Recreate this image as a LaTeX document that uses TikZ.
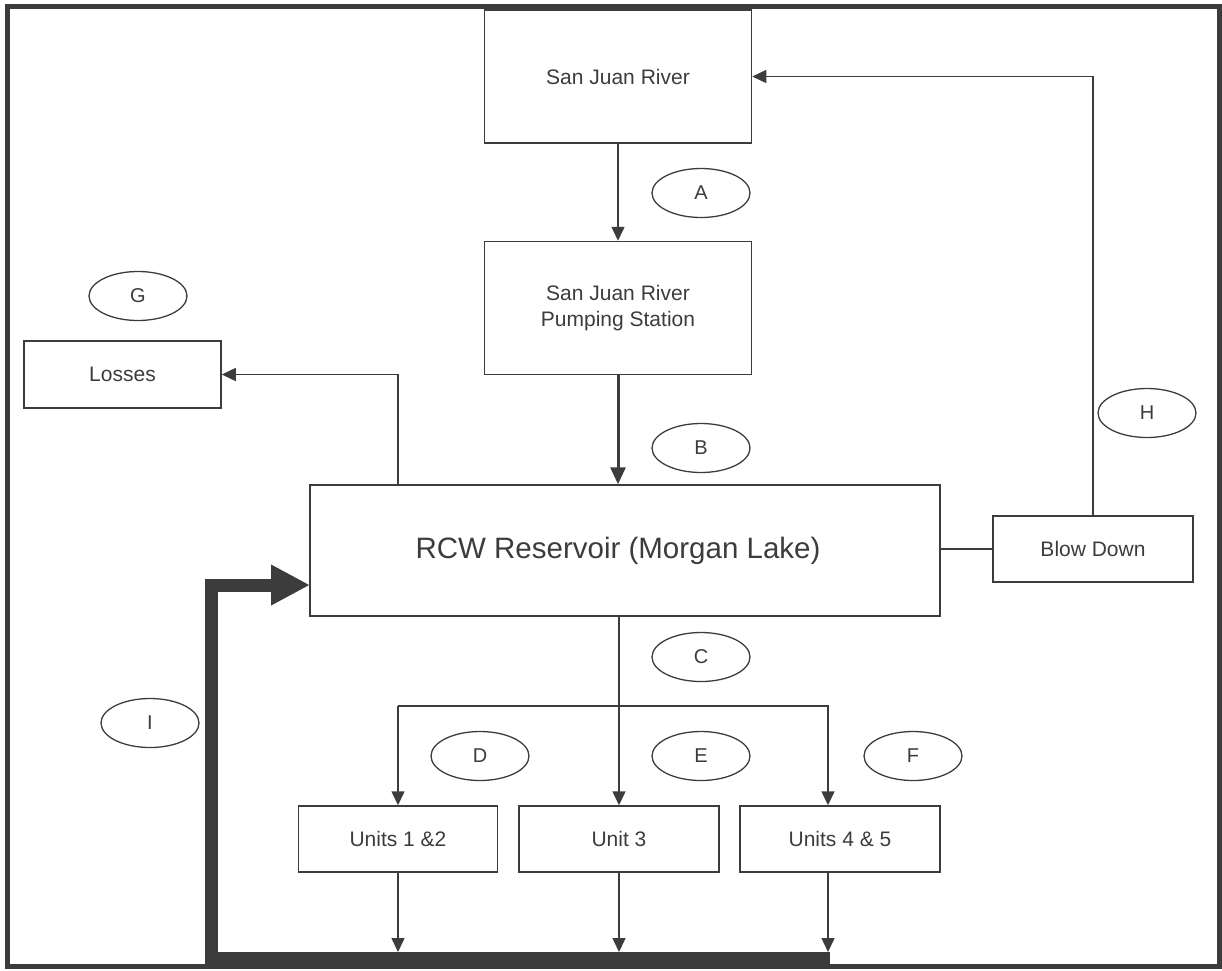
\documentclass[tikz,border=0pt]{standalone}
\usepackage{fontspec}
\setmainfont{Liberation Sans}
\usetikzlibrary{arrows.meta,shapes.geometric}
\definecolor{ink}{HTML}{3C3C3C}
\begin{document}
\begin{tikzpicture}[x=1pt,y=-1pt,color=ink,
	box/.style={draw,line width=1.5pt,inner sep=0pt,align=center,font=\fontsize{21}{26}\selectfont},
	tag/.style={draw,ellipse,line width=1.3pt,inner sep=0pt,minimum width=98pt,minimum height=49pt,font=\fontsize{20}{24}\selectfont},
	flow/.style={line width=1.5pt,-{Triangle[length=14pt,width=13pt]}},
	feed/.style={line width=13pt,line join=miter,-{Triangle[length=39pt,width=38pt]}}]
	\useasboundingbox (0,0) rectangle (1222,970);
	%frame
	\draw[line width=5pt] (7,6.5) rectangle (1219,966);

	%boxes
	\node[box,minimum width=267pt,minimum height=133pt] (river) at (618,76.5) {San Juan River};
	\node[box,minimum width=267pt,minimum height=133pt] (pump) at (618,308) {San Juan River\\Pumping Station};
	\node[box,minimum width=630pt,minimum height=131pt,font=\fontsize{29.5}{32}\selectfont] (rcw) at (625,550.5) {RCW Reservoir (Morgan Lake)\hspace*{14pt}};
	\node[box,minimum width=197pt,minimum height=67pt] (losses) at (122.5,374.5) {Losses};
	\node[box,minimum width=200pt,minimum height=66pt] (blow) at (1093,549) {Blow Down};
	\node[box,minimum width=199pt,minimum height=66pt] (u12) at (398,839) {Units 1 \&2};
	\node[box,minimum width=200pt,minimum height=66pt] (u3) at (619,839) {Unit 3};
	\node[box,minimum width=200pt,minimum height=66pt] (u45) at (840,839) {Units 4 \& 5};

	%flow tags
	\node[tag] (tagA) at (701,193) {A};
	\node[tag] (tagB) at (701,448) {B};
	\node[tag] (tagC) at (701,657) {C};
	\node[tag] (tagD) at (480,756) {D};
	\node[tag] (tagE) at (701,756) {E};
	\node[tag] (tagF) at (913,756) {F};
	\node[tag] (tagG) at (138,296) {G};
	\node[tag] (tagH) at (1147,413) {H};
	\node[tag] (tagI) at (150,723) {I};

	%junctions
	\coordinate (j12) at (398,706);
	\coordinate (j45) at (828,706);
	\coordinate (floor) at (211,952);
	\coordinate (r45) at (830,958.5);
	\coordinate (r0) at (211,958.5);
	\coordinate (rup) at (211,585);
	\coordinate (rin) at (310,585);

	%supply
	\draw[flow] (river) -- (pump); %A
	\draw[flow,line width=3pt,-{Triangle[length=17pt,width=15pt]}] (pump.south) -- (pump.south |- rcw.north); %B
	\draw[flow] (u12.north |- rcw.north) |- (losses.east); %G
	\draw[line width=1.5pt] (rcw.east |- blow.west) -- (blow.west);
	\draw[flow] (blow.north) |- (river.east); %H

	%units
	\draw[flow] (u3.north |- rcw.south) -- (u3.north); %C, E
	\draw[flow] (j12) -- (u12.north); %D
	\draw[flow] (j12) -- (j45) -- (j45 |- u45.north); %F
	\draw[flow] (u12.south) -- (u12.south |- floor);
	\draw[flow] (u3.south) -- (u3.south |- floor);
	\draw[flow] (j45 |- u45.south) -- (j45 |- floor);

	%return
	\draw[feed] (r45) -- (r0) -- (rup) -- (rin); %I
\end{tikzpicture}
\end{document}
